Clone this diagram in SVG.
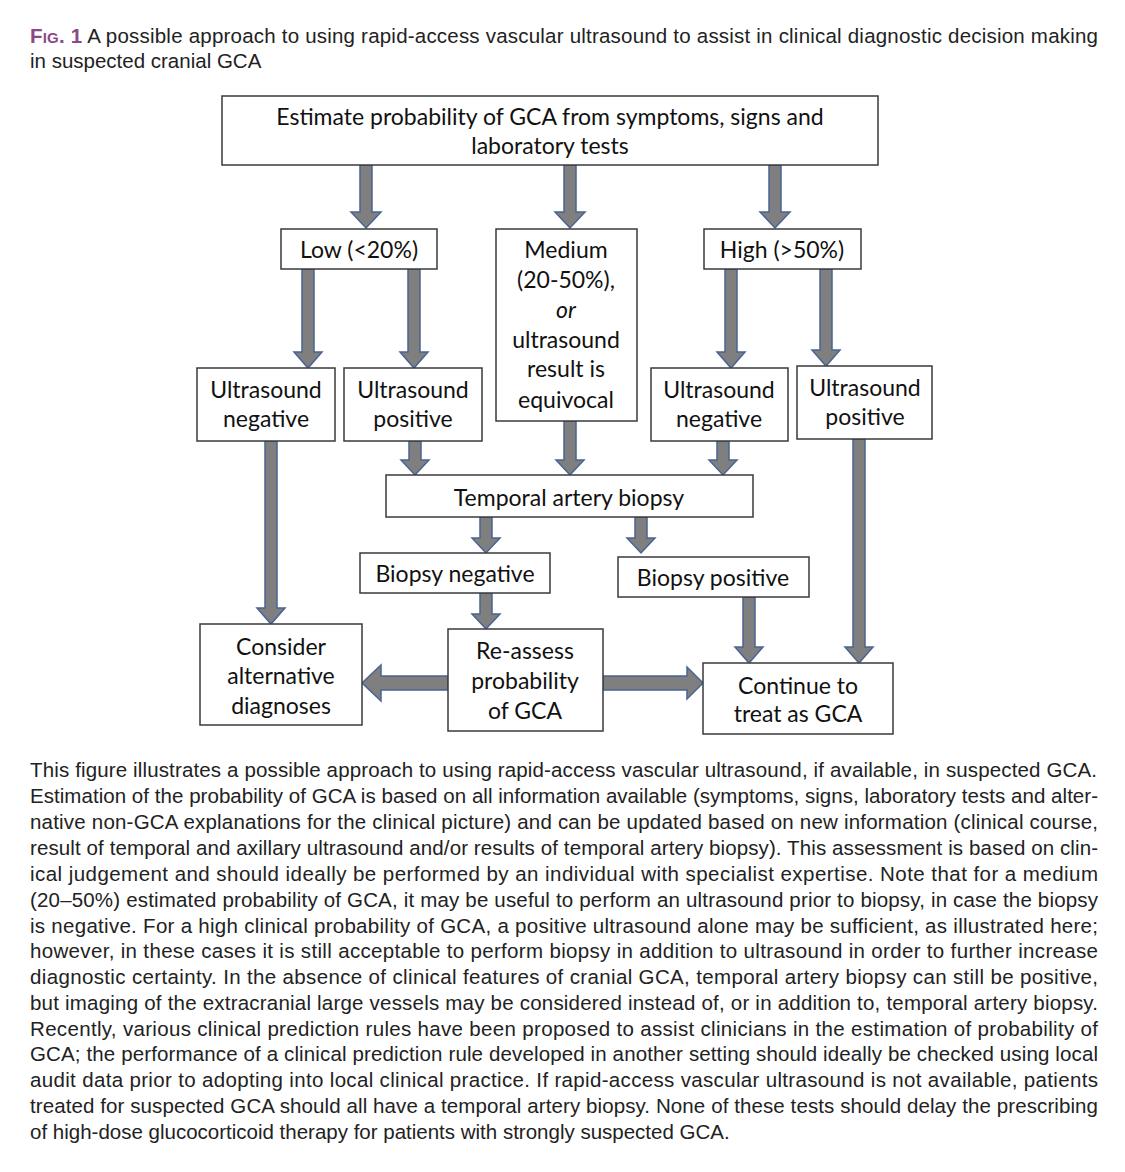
<svg xmlns="http://www.w3.org/2000/svg" width="1125" height="1172" viewBox="0 0 1125 1172">
<style>
.bx{fill:#fff;stroke:#3a3a3a;stroke-width:1.5}
.nt{font-family:Lato,"Open Sans",sans-serif;font-size:23px;fill:#111;text-anchor:middle}
.ar{fill:#7f7f7f;stroke:#4a6494;stroke-width:1.5;stroke-linejoin:miter}
.cap{font-family:"Liberation Sans",Arial,sans-serif;font-size:20.5px;fill:#222}
.fig{fill:#8a4a86;font-weight:bold}
</style>
<rect width="1125" height="1172" fill="#fff"/>
<g id="title">
<text class="cap" x="30" y="43" textLength="1068" lengthAdjust="spacing"><tspan class="fig">F</tspan><tspan class="fig" font-size="15">IG</tspan><tspan class="fig">. 1</tspan> A possible approach to using rapid-access vascular ultrasound to assist in clinical diagnostic decision making</text>
<text class="cap" x="30" y="68">in suspected cranial GCA</text>
</g>
<g id="connectors">
<path class="ar" d="M360 165H372V212H381L366 228L351 212H360Z"/>
<path class="ar" d="M564 165H576V212H585L570 228L555 212H564Z"/>
<path class="ar" d="M769 165H781V212H790L775 228L760 212H769Z"/>
<path class="ar" d="M302 269H314V352H322L308 368L294 352H302Z"/>
<path class="ar" d="M408 269H420V352H428L414 368L400 352H408Z"/>
<path class="ar" d="M725 269H737V352H745L731 368L717 352H725Z"/>
<path class="ar" d="M820 269H832V350H840L826 366L812 350H820Z"/>
<path class="ar" d="M409 441H421V460H429L415 475L401 460H409Z"/>
<path class="ar" d="M564 421H576V460H584L570 475L556 460H564Z"/>
<path class="ar" d="M717 441H729V460H737L723 475L709 460H717Z"/>
<path class="ar" d="M480 517H492V538H500L486 553L472 538H480Z"/>
<path class="ar" d="M635 517H647V538H655L641 553L627 538H635Z"/>
<path class="ar" d="M265 441H277V608H285L271 624L257 608H265Z"/>
<path class="ar" d="M480 593H492V614H500L486 629L472 614H480Z"/>
<path class="ar" d="M743 597H755V647H763L749 663L735 647H743Z"/>
<path class="ar" d="M853 439H865V647H873L859 663L845 647H853Z"/>
<path class="ar" d="M448 676V690H381V701L362 683L381 665V676Z"/>
<path class="ar" d="M603 676V690H687V699L703 683L687 667V676Z"/>
</g>
<g id="n-estimate"><rect class="bx" x="222" y="96" width="656" height="69"/><text class="nt" x="550" y="125">Estimate probability of GCA from symptoms, signs and</text><text class="nt" x="550" y="154">laboratory tests</text></g>
<g id="n-low"><rect class="bx" x="281" y="229" width="156" height="40"/><text class="nt" x="359" y="258">Low (&lt;20%)</text></g>
<g id="n-medium"><rect class="bx" x="496" y="229" width="141" height="192"/><text class="nt" x="566" y="258">Medium</text><text class="nt" x="566" y="288">(20-50%),</text><text class="nt" x="566" y="318" font-style="italic">or</text><text class="nt" x="566" y="348">ultrasound</text><text class="nt" x="566" y="377">result is</text><text class="nt" x="566" y="408">equivocal</text></g>
<g id="n-high"><rect class="bx" x="704" y="229" width="157" height="40"/><text class="nt" x="782" y="258">High (&gt;50%)</text></g>
<g id="n-usneg-l"><rect class="bx" x="197" y="368" width="138" height="73"/><text class="nt" x="266" y="398">Ultrasound</text><text class="nt" x="266" y="427">negative</text></g>
<g id="n-uspos-l"><rect class="bx" x="344" y="368" width="138" height="73"/><text class="nt" x="413" y="398">Ultrasound</text><text class="nt" x="413" y="427">positive</text></g>
<g id="n-usneg-r"><rect class="bx" x="651" y="368" width="137" height="73"/><text class="nt" x="719" y="398">Ultrasound</text><text class="nt" x="719" y="427">negative</text></g>
<g id="n-uspos-r"><rect class="bx" x="797" y="366" width="135" height="73"/><text class="nt" x="865" y="396">Ultrasound</text><text class="nt" x="865" y="425">positive</text></g>
<g id="n-tab"><rect class="bx" x="386" y="475" width="367" height="42"/><text class="nt" x="569" y="506">Temporal artery biopsy</text></g>
<g id="n-bneg"><rect class="bx" x="360" y="553" width="190" height="40"/><text class="nt" x="455" y="582">Biopsy negative</text></g>
<g id="n-bpos"><rect class="bx" x="618" y="557" width="191" height="40"/><text class="nt" x="713" y="586">Biopsy positive</text></g>
<g id="n-consider"><rect class="bx" x="200" y="624" width="162" height="101"/><text class="nt" x="281" y="655">Consider</text><text class="nt" x="281" y="684">alternative</text><text class="nt" x="281" y="714">diagnoses</text></g>
<g id="n-reassess"><rect class="bx" x="448" y="629" width="155" height="102"/><text class="nt" x="525" y="659">Re-assess</text><text class="nt" x="525" y="689">probability</text><text class="nt" x="525" y="719">of GCA</text></g>
<g id="n-continue"><rect class="bx" x="703" y="663" width="190" height="71"/><text class="nt" x="798" y="694">Continue to</text><text class="nt" x="798" y="722">treat as GCA</text></g>
<g id="caption">
<text class="cap" x="30" y="777" textLength="1067" lengthAdjust="spacing">This figure illustrates a possible approach to using rapid-access vascular ultrasound, if available, in suspected GCA.</text>
<text class="cap" x="30" y="803" textLength="1068" lengthAdjust="spacing">Estimation of the probability of GCA is based on all information available (symptoms, signs, laboratory tests and alter-</text>
<text class="cap" x="30" y="829" textLength="1068" lengthAdjust="spacing">native non-GCA explanations for the clinical picture) and can be updated based on new information (clinical course,</text>
<text class="cap" x="30" y="855" textLength="1068" lengthAdjust="spacing">result of temporal and axillary ultrasound and/or results of temporal artery biopsy). This assessment is based on clin-</text>
<text class="cap" x="30" y="881" textLength="1068" lengthAdjust="spacing">ical judgement and should ideally be performed by an individual with specialist expertise. Note that for a medium</text>
<text class="cap" x="30" y="907" textLength="1068" lengthAdjust="spacing">(20–50%) estimated probability of GCA, it may be useful to perform an ultrasound prior to biopsy, in case the biopsy</text>
<text class="cap" x="30" y="933" textLength="1068" lengthAdjust="spacing">is negative. For a high clinical probability of GCA, a positive ultrasound alone may be sufficient, as illustrated here;</text>
<text class="cap" x="30" y="958" textLength="1068" lengthAdjust="spacing">however, in these cases it is still acceptable to perform biopsy in addition to ultrasound in order to further increase</text>
<text class="cap" x="30" y="984" textLength="1068" lengthAdjust="spacing">diagnostic certainty. In the absence of clinical features of cranial GCA, temporal artery biopsy can still be positive,</text>
<text class="cap" x="30" y="1010" textLength="1068" lengthAdjust="spacing">but imaging of the extracranial large vessels may be considered instead of, or in addition to, temporal artery biopsy.</text>
<text class="cap" x="30" y="1036" textLength="1068" lengthAdjust="spacing">Recently, various clinical prediction rules have been proposed to assist clinicians in the estimation of probability of</text>
<text class="cap" x="30" y="1061" textLength="1068" lengthAdjust="spacing">GCA; the performance of a clinical prediction rule developed in another setting should ideally be checked using local</text>
<text class="cap" x="30" y="1087" textLength="1068" lengthAdjust="spacing">audit data prior to adopting into local clinical practice. If rapid-access vascular ultrasound is not available, patients</text>
<text class="cap" x="30" y="1113" textLength="1068" lengthAdjust="spacing">treated for suspected GCA should all have a temporal artery biopsy. None of these tests should delay the prescribing</text>
<text class="cap" x="30" y="1139">of high-dose glucocorticoid therapy for patients with strongly suspected GCA.</text>
</g>
</svg>
